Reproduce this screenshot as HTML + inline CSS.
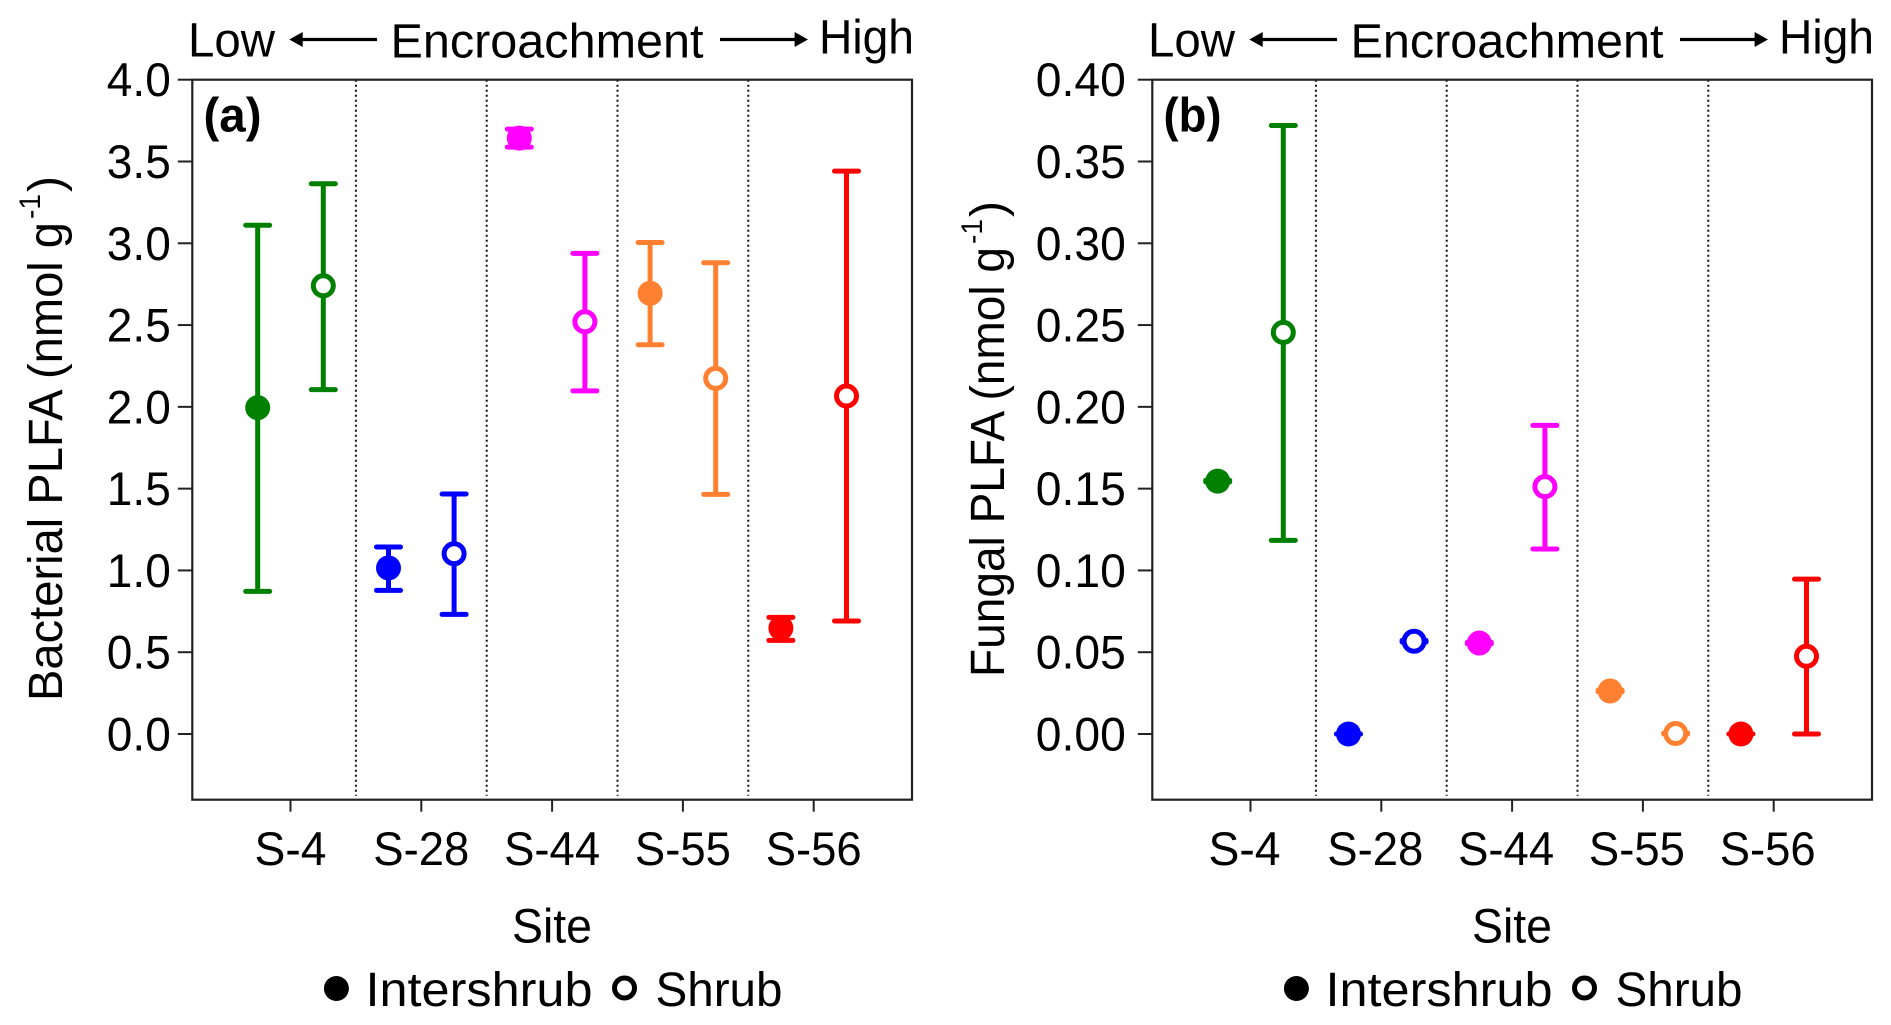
<!DOCTYPE html>
<html lang="en">
<head>
<meta charset="utf-8">
<title>Bacterial and Fungal PLFA by Site</title>
<style>
html,body{margin:0;padding:0;background:#fff;}
svg{display:block;}
text{font-family:"Liberation Sans",sans-serif;fill:#000;}
</style>
</head>
<body>
<svg id="chart" xmlns="http://www.w3.org/2000/svg" width="1891" height="1025" viewBox="0 0 1891 1025">
  <rect width="1891" height="1025" fill="#fff"/>
</svg>
<script>
const sites = ["S-4", "S-28", "S-44", "S-55", "S-56"];

const bacterialTicks = ["0.0", "0.5", "1.0", "1.5", "2.0", "2.5", "3.0", "3.5", "4.0"];
const bacterialIntershrubMean = [1.995, 1.015, 3.643, 2.694, 0.648];
const bacterialIntershrubLow = [0.872, 0.878, 3.588, 2.380, 0.572];
const bacterialIntershrubHigh = [3.110, 1.143, 3.698, 3.005, 0.713];
const bacterialShrubMean = [2.740, 1.102, 2.520, 2.174, 2.066];
const bacterialShrubLow = [2.105, 0.731, 2.098, 1.465, 0.691];
const bacterialShrubHigh = [3.364, 1.467, 2.938, 2.881, 3.441];

const fungalTicks = ["0.00", "0.05", "0.10", "0.15", "0.20", "0.25", "0.30", "0.35", "0.40"];
const fungalIntershrubMean = [0.1546, 0.0000, 0.0556, 0.0263, 0.0000];
const fungalIntershrubLow = [0.1541, 0.0000, 0.0551, 0.0258, 0.0000];
const fungalIntershrubHigh = [0.1551, 0.0000, 0.0561, 0.0268, 0.0000];
const fungalShrubMean = [0.2455, 0.0567, 0.1512, 0.0003, 0.0475];
const fungalShrubLow = [0.1184, 0.0562, 0.1131, 0.0000, 0.0000];
const fungalShrubHigh = [0.3720, 0.0572, 0.1887, 0.0006, 0.0947];

const siteColors = ["#008000", "#0000ff", "#ff00ff", "#ff8030", "#ff0000"];

const NS = "http://www.w3.org/2000/svg";
const svg = document.getElementById("chart");

const PLOT_TOP = 79.7, PLOT_BOTTOM = 799.7, Y_ZERO = 734, SITE_STEP = 130.8, POINT_OFFSET = 32.8;

function make(tag, attrs, parent) {
  const el = document.createElementNS(NS, tag);
  for (const k in attrs) el.setAttribute(k, attrs[k]);
  parent.appendChild(el);
  return el;
}

function makeText(content, attrs, parent) {
  const el = make("text", attrs, parent);
  el.textContent = content;
  return el;
}

function drawPanel(p) {
  const g = make("g", {}, svg);
  
  

  const dx = p.dx;
  const left = 192.3 + dx, right = 912 + dx;
  const yMax = parseFloat(p.ticks[p.ticks.length - 1]);
  const yScale = v => Y_ZERO - (v / yMax) * (Y_ZERO - PLOT_TOP);
  const xSite = i => 290.5 + dx + i * SITE_STEP;

  // separators
  for (let i = 0; i < p.sites.length - 1; i++) {
    const sep = make("line", {
      x1: xSite(i) + SITE_STEP / 2, x2: xSite(i) + SITE_STEP / 2,
      y1: PLOT_TOP, y2: PLOT_BOTTOM - 4,
      stroke: "#111", "stroke-width": 2, "stroke-dasharray": "2 3"
    }, g);
    
    
  }

  // frame
  const frame = make("rect", {
    x: left, y: PLOT_TOP, width: right - left, height: PLOT_BOTTOM - PLOT_TOP,
    fill: "none", stroke: "#222", "stroke-width": 2.2
  }, g);
  
  

  // y ticks
  p.ticks.forEach(label => {
    const y = yScale(parseFloat(label));
    const tick = make("line", { x1: left - 14.5, x2: left, y1: y, y2: y, stroke: "#222", "stroke-width": 2 }, g);
    
    
    const t = makeText(label, {
      x: left - p.tickLabelGap, y: y + 16.5, "text-anchor": "end", "font-size": 47,
      textLength: p.tickLabelWidth, lengthAdjust: "spacingAndGlyphs"
    }, g);
    
    
  });

  // x ticks
  p.sites.forEach((site, i) => {
    const x = xSite(i);
    const tick = make("line", { x1: x, x2: x, y1: PLOT_BOTTOM, y2: PLOT_BOTTOM + 12, stroke: "#222", "stroke-width": 2 }, g);
    
    
    const t = makeText(site, {
      x: x + p.labelShift, y: 865, "text-anchor": "middle", "font-size": 47,
      textLength: site.length * 24, lengthAdjust: "spacingAndGlyphs"
    }, g);
    
    
  });

  // series
  function drawSeries(mean, low, high, offset, open, seriesName) {
    mean.forEach((m, i) => {
      const cx = xSite(i) + offset;
      const color = siteColors[i];
      const s = make("g", {}, g);
      
      
      make("line", { x1: cx, x2: cx, y1: yScale(low[i]), y2: yScale(high[i]), stroke: color, "stroke-width": 5 }, s);
      make("line", { x1: cx - 12, x2: cx + 12, y1: yScale(low[i]), y2: yScale(low[i]), stroke: color, "stroke-width": 5, "stroke-linecap": "round" }, s);
      make("line", { x1: cx - 12, x2: cx + 12, y1: yScale(high[i]), y2: yScale(high[i]), stroke: color, "stroke-width": 5, "stroke-linecap": "round" }, s);
      if (open) {
        make("circle", { cx: cx, cy: yScale(m), r: 10, fill: "#fff", stroke: color, "stroke-width": 5 }, s);
      } else {
        make("circle", { cx: cx, cy: yScale(m), r: 12.5, fill: color }, s);
      }
    });
  }
  drawSeries(p.interMean, p.interLow, p.interHigh, -POINT_OFFSET, false, "intershrub-point");
  drawSeries(p.shrubMean, p.shrubLow, p.shrubHigh, POINT_OFFSET, true, "shrub-point");

  // panel letter
  const letter = makeText(p.letter, { x: 203.5 + dx, y: 131.7, "font-size": 48, "font-weight": "bold", textLength: 58, lengthAdjust: "spacingAndGlyphs" }, g);
  
  

  // encroachment header
  const low = makeText("Low", { x: 188 + dx, y: 56.7, "font-size": 48, textLength: 87, lengthAdjust: "spacingAndGlyphs" }, g);
  
  
  const enc = makeText("Encroachment", { x: 390.5 + dx, y: 57.7, "font-size": 48, textLength: 313, lengthAdjust: "spacingAndGlyphs" }, g);
  
  
  const high = makeText("High", { x: 819 + dx, y: 53.4, "font-size": 48, textLength: 95, lengthAdjust: "spacingAndGlyphs" }, g);
  
  

  const arrowL = make("g", {}, g);
  
  
  make("line", { x1: 298 + dx, x2: 377 + dx, y1: 39.5, y2: 39.5, stroke: "#000", "stroke-width": 3.3 }, arrowL);
  make("polygon", { points: (289.3 + dx) + ",39.5 " + (302.7 + dx) + ",32 " + (302.7 + dx) + ",47", fill: "#000" }, arrowL);

  const arrowR = make("g", {}, g);
  
  
  make("line", { x1: 720 + dx, x2: 799 + dx, y1: 39.5, y2: 39.5, stroke: "#000", "stroke-width": 3.3 }, arrowR);
  make("polygon", { points: (808 + dx) + ",39.5 " + (794.6 + dx) + ",32 " + (794.6 + dx) + ",47", fill: "#000" }, arrowR);

  // y title
  const title = makeText(p.yTitle, {
    transform: "translate(" + p.titleX + "," + p.titleStart + ") rotate(-90)",
    "font-size": 48, textLength: p.titleLength, lengthAdjust: "spacingAndGlyphs"
  }, g);
  
  
  const sup = makeText("-1", {
    transform: "translate(" + (p.titleX - 22) + "," + (p.titleStart - p.titleLength - 3) + ") rotate(-90)",
    "font-size": 30, textLength: 25, lengthAdjust: "spacingAndGlyphs"
  }, g);
  
  
  const close = makeText(")", {
    transform: "translate(" + p.titleX + "," + (p.titleStart - p.titleLength - 30) + ") rotate(-90)",
    "font-size": 48
  }, g);
  
  

  // x title
  const xTitle = makeText("Site", { x: 552 + dx, y: 942.7, "text-anchor": "middle", "font-size": 48, textLength: 80, lengthAdjust: "spacingAndGlyphs" }, g);
  
  

  // legend
  const legInter = make("g", {}, g);
  
  
  make("circle", { cx: 336.4 + dx, cy: 988.5, r: 12.5, fill: "#000" }, legInter);
  makeText("Intershrub", { x: 365.5 + dx, y: 1006, "font-size": 48, textLength: 227, lengthAdjust: "spacingAndGlyphs" }, legInter);

  const legShrub = make("g", {}, g);
  
  
  make("circle", { cx: 624.5 + dx, cy: 988, r: 10, fill: "#fff", stroke: "#000", "stroke-width": 5 }, legShrub);
  makeText("Shrub", { x: 655.5 + dx, y: 1006, "font-size": 48, textLength: 127, lengthAdjust: "spacingAndGlyphs" }, legShrub);
}

drawPanel({
  name: "bacterial-plfa-panel", dx: 0, letter: "(a)", labelShift: 0, tickLabelWidth: 64, tickLabelGap: 21.5,
  sites: sites, ticks: bacterialTicks,
  interMean: bacterialIntershrubMean, interLow: bacterialIntershrubLow, interHigh: bacterialIntershrubHigh,
  shrubMean: bacterialShrubMean, shrubLow: bacterialShrubLow, shrubHigh: bacterialShrubHigh,
  yTitle: "Bacterial PLFA (nmol g", titleX: 62, titleStart: 701, titleLength: 479
});

drawPanel({
  name: "fungal-plfa-panel", dx: 960, letter: "(b)", labelShift: -6, tickLabelWidth: 90, tickLabelGap: 26.5,
  sites: sites, ticks: fungalTicks,
  interMean: fungalIntershrubMean, interLow: fungalIntershrubLow, interHigh: fungalIntershrubHigh,
  shrubMean: fungalShrubMean, shrubLow: fungalShrubLow, shrubHigh: fungalShrubHigh,
  yTitle: "Fungal PLFA (nmol g", titleX: 1004, titleStart: 677, titleLength: 430
});
</script>
</body>
</html>
